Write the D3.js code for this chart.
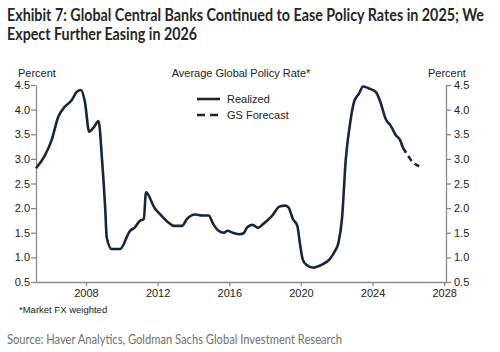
<!DOCTYPE html>
<html>
<head>
<meta charset="utf-8">
<script src="https://cdn.jsdelivr.net/npm/d3@7"></script>
<style>
  body { margin: 0; background: #fff; }
  svg { display: block; }
</style>
</head>
<body>
<div id="chart"></div>
<script>
(function(d3) {
  'use strict';

  // realized policy rate (decimal years)
  var realizedYears = [2005.21, 2005.71, 2006.08, 2006.45, 2006.82, 2007.2, 2007.48, 2007.72, 2007.94,
    2008.18, 2008.45, 2008.7, 2008.9, 2009.07, 2009.16, 2009.44, 2009.9, 2010.46, 2010.73, 2011.0,
    2011.23, 2011.35, 2011.85, 2012.13, 2012.6, 2012.9, 2013.36, 2013.64, 2014.1, 2014.48, 2014.85,
    2015.1, 2015.4, 2015.7, 2015.9, 2016.2, 2016.6, 2016.8, 2017.0, 2017.3, 2017.6, 2017.9, 2018.4,
    2018.8, 2019.1, 2019.3, 2019.55, 2019.8, 2019.95, 2020.1, 2020.3, 2020.7, 2020.9, 2021.2, 2021.6,
    2021.9, 2022.1, 2022.3, 2022.5, 2022.73, 2022.97, 2023.25, 2023.47, 2023.8, 2024.2, 2024.4,
    2024.76, 2025.0, 2025.3, 2025.54, 2025.69];
  var realizedRates = [2.81, 3.07, 3.38, 3.85, 4.06, 4.19, 4.36, 4.4, 4.16,
    3.55, 3.65, 3.77, 2.97, 2.02, 1.4, 1.17, 1.17, 1.54, 1.61, 1.74,
    1.78, 2.32, 1.99, 1.88, 1.71, 1.64, 1.64, 1.78, 1.87, 1.85, 1.85,
    1.68, 1.54, 1.5, 1.54, 1.5, 1.47, 1.49, 1.61, 1.66, 1.6, 1.68, 1.85,
    2.03, 2.05, 2.02, 1.78, 1.64, 1.27, 0.96, 0.85, 0.79, 0.81, 0.86, 0.96,
    1.13, 1.3, 1.81, 2.97, 3.68, 4.16, 4.33, 4.47, 4.43, 4.35, 4.19,
    3.79, 3.68, 3.48, 3.38, 3.23];

  // GS forecast
  var forecastYears = [2025.69, 2025.97, 2026.25, 2026.6];
  var forecastRates = [3.23, 3.07, 2.93, 2.85];

  var yTicks = [0.5, 1.0, 1.5, 2.0, 2.5, 3.0, 3.5, 4.0, 4.5];
  var xTicks = [2008, 2012, 2016, 2020, 2024, 2028];
  var legendLabels = ['Realized', 'GS Forecast'];

  var width = 500;
  var height = 352;
  var margin = {left: 36, right: 54, top: 85, bottom: 70};
  var lineColor = '#15273d';
  var axisColor = '#8a8a8a';
  var labelFont = '"Liberation Sans", Arial, sans-serif';

  var svg = d3.select('#chart')
    .append('svg')
    .attr('width', width)
    .attr('height', height);

  var x = d3.scaleLinear()
    .domain([2005.21, 2028.1])
    .range([margin.left, width - margin.right]);

  var y = d3.scaleLinear()
    .domain([0.5, 4.5])
    .range([height - margin.bottom, margin.top]);

  // title, squeezed to the width it has in the original
  svg.append('text')
    .attr('x', 7).attr('y', 21)
    .attr('textLength', 477).attr('lengthAdjust', 'spacingAndGlyphs')
    .attr('font-family', 'Lato, sans-serif')
    .attr('font-weight', 'bold')
    .attr('font-size', 16.5)
    .attr('fill', '#262626')
    .text('Exhibit 7: Global Central Banks Continued to Ease Policy Rates in 2025; We');
  svg.append('text')
    .attr('x', 7).attr('y', 40)
    .attr('textLength', 190).attr('lengthAdjust', 'spacingAndGlyphs')
    .attr('font-family', 'Lato, sans-serif')
    .attr('font-weight', 'bold')
    .attr('font-size', 16.5)
    .attr('fill', '#262626')
    .text('Expect Further Easing in 2026');

  // axes
  var xAxis = svg.append('g')
    .attr('transform', 'translate(0,' + y(0.5) + ')')
    .call(d3.axisBottom(x).tickValues(xTicks).tickFormat(d3.format('d')).tickSize(4).tickSizeOuter(0));

  var yLeft = svg.append('g')
    .attr('transform', 'translate(' + margin.left + ',0)')
    .call(d3.axisLeft(y).tickValues(yTicks).tickFormat(d3.format('.1f')).tickSize(5).tickSizeOuter(0));

  var yRight = svg.append('g')
    .attr('transform', 'translate(' + (width - margin.right) + ',0)')
    .call(d3.axisRight(y).tickValues(yTicks).tickFormat(d3.format('.1f')).tickSize(5).tickSizeOuter(0));

  [xAxis, yLeft, yRight].forEach(function(g) {
    g.selectAll('path, line').attr('stroke', axisColor).attr('stroke-width', 1.3);
    g.selectAll('text')
      .attr('font-family', labelFont)
      .attr('font-size', 11)
      .attr('fill', '#222');
  });
  xAxis.selectAll('text').attr('dy', '0.75em');
  yLeft.selectAll('text').attr('x', -6);
  yRight.selectAll('text').attr('x', 8);

  // axis captions
  svg.append('text')
    .attr('x', 18).attr('y', 77)
    .attr('font-family', labelFont).attr('font-size', 11).attr('fill', '#222')
    .text('Percent');
  svg.append('text')
    .attr('x', 428).attr('y', 77)
    .attr('font-family', labelFont).attr('font-size', 11).attr('fill', '#222')
    .text('Percent');
  svg.append('text')
    .attr('x', 241).attr('y', 77)
    .attr('text-anchor', 'middle')
    .attr('font-family', labelFont).attr('font-size', 11).attr('fill', '#222')
    .text('Average Global Policy Rate*');

  // lines
  var line = d3.line()
    .x(function(d) { return x(d[0]); })
    .y(function(d) { return y(d[1]); })
    .curve(d3.curveMonotoneX);

  var realized = d3.zip(realizedYears, realizedRates);
  var forecast = d3.zip(forecastYears, forecastRates);

  svg.append('path')
    .datum(realized)
    .attr('d', line)
    .attr('fill', 'none')
    .attr('stroke', lineColor)
    .attr('stroke-width', 2.6)
    .attr('stroke-linejoin', 'round');

  svg.append('path')
    .datum(forecast)
    .attr('d', line)
    .attr('fill', 'none')
    .attr('stroke', lineColor)
    .attr('stroke-width', 2.6)
    .attr('stroke-dasharray', '6,4');

  // legend
  var legend = svg.selectAll('.legend')
    .data(legendLabels)
    .enter()
    .append('g')
    .attr('class', 'legend')
    .attr('transform', function(d, i) {
      return 'translate(197,' + (99 + i * 16) + ')';
    });

  legend.append('line')
    .attr('x1', 0).attr('x2', 23)
    .attr('stroke', lineColor)
    .attr('stroke-width', 2.6)
    .attr('stroke-dasharray', function(d, i) { return i ? '8,5' : null; });

  legend.append('text')
    .attr('x', 30)
    .attr('dy', '0.35em')
    .attr('font-family', labelFont).attr('font-size', 11).attr('fill', '#222')
    .text(function(d) { return d; });

  // notes
  svg.append('text')
    .attr('x', 19).attr('y', 313)
    .attr('font-family', labelFont).attr('font-size', 9.5).attr('fill', '#222')
    .text('*Market FX weighted');

  svg.append('text')
    .attr('x', 7).attr('y', 344)
    .attr('textLength', 335).attr('lengthAdjust', 'spacingAndGlyphs')
    .attr('font-family', 'Lato, sans-serif').attr('font-size', 13).attr('fill', '#707070')
    .text('Source: Haver Analytics, Goldman Sachs Global Investment Research');

})(window.d3);
</script>
</body>
</html>
